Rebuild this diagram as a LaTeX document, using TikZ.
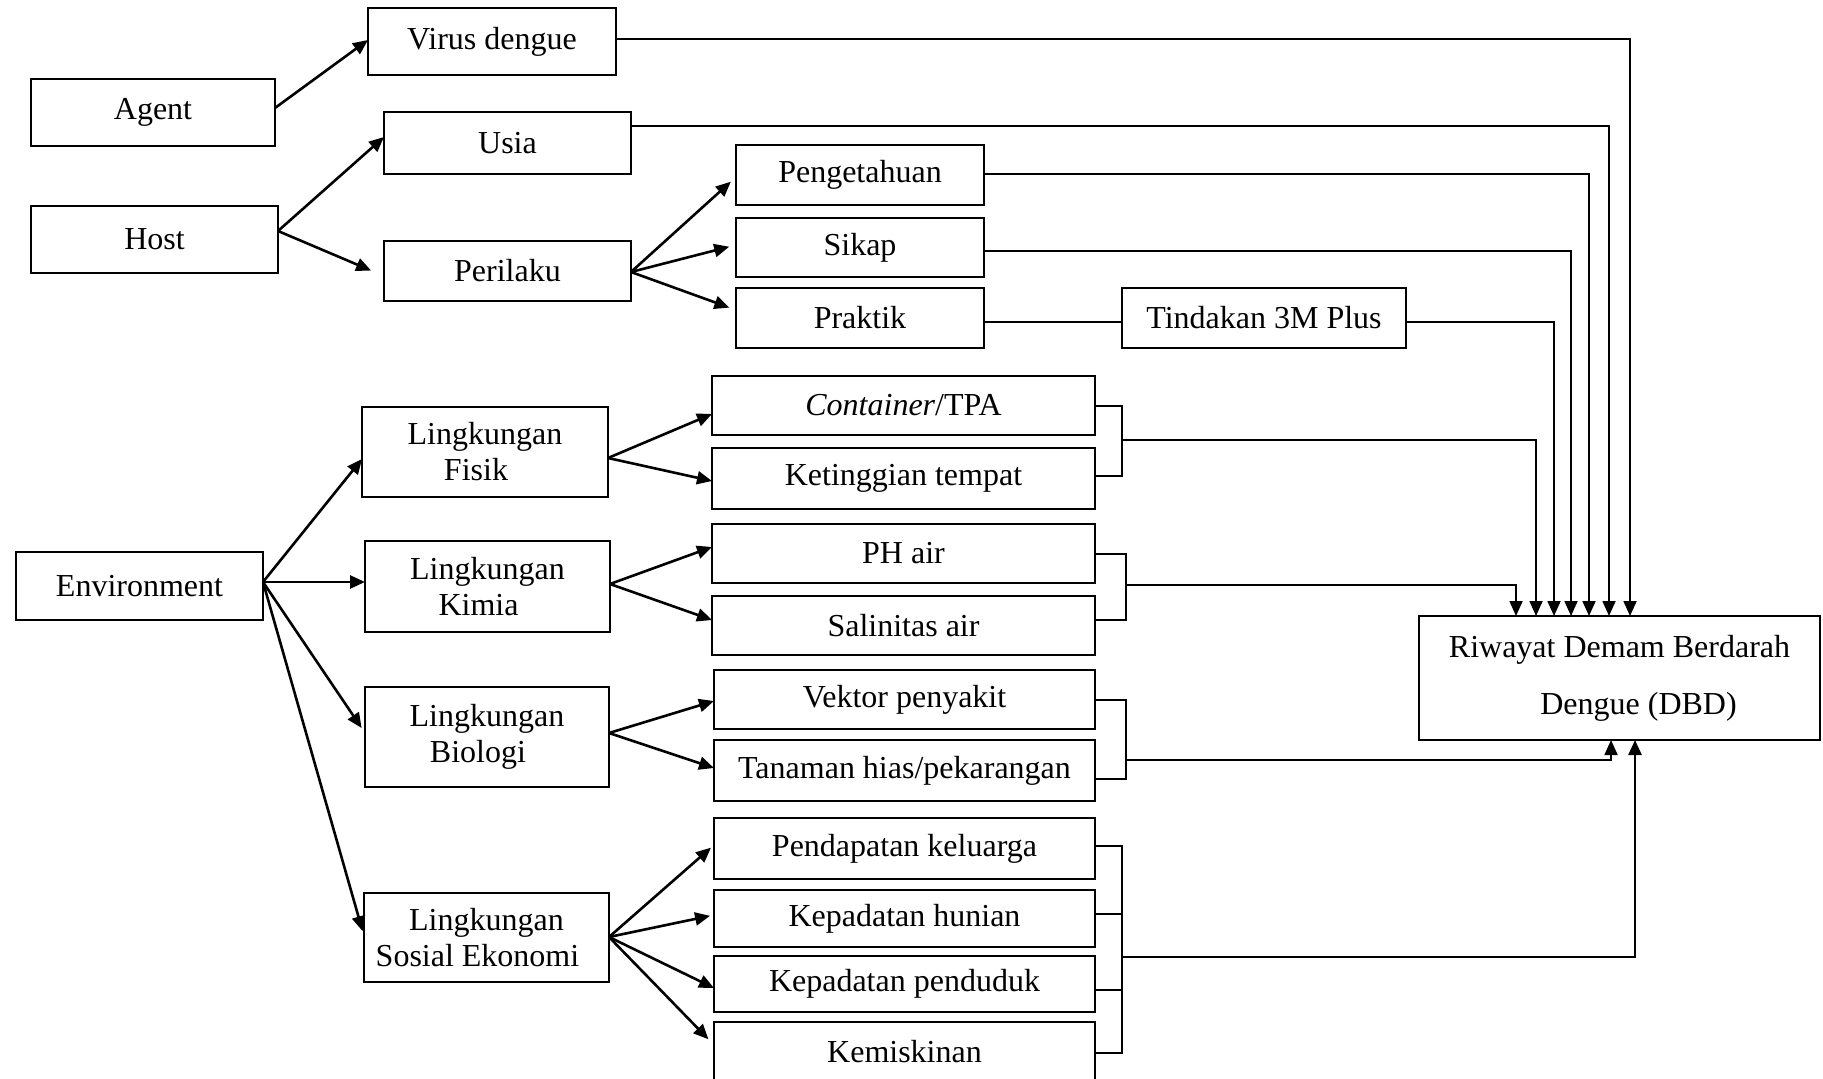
\documentclass[tikz,border=0pt]{standalone}
\usepackage{fontspec}
\setmainfont{Liberation Serif}
\usetikzlibrary{arrows.meta,calc}
\begin{document}
\begin{tikzpicture}[x=0.5pt,y=-0.5pt,
 box/.style={draw, line width=0.75pt, inner sep=0pt, outer sep=0pt, align=center, font=\fontsize{16}{18}\selectfont},
 arr/.style={line width=1.3pt, -{Triangle[length=7.5pt,width=6.5pt]}},
 feed/.style={line width=0.9pt, -{Triangle[length=7.5pt,width=6.5pt]}},
 brk/.style={line width=0.7pt}]
\useasboundingbox (0,0) rectangle (1823,1079);
% nodes
\node[box, minimum width=124pt, minimum height=33.5pt] (virus) at (492,41.5) {Virus dengue};
\node[box, minimum width=122pt, minimum height=33.5pt] (agent) at (153,112.5) {Agent};
\node[box, minimum width=123.5pt, minimum height=31pt] (usia) at (507.5,143) {Usia};
\node[box, minimum width=123.5pt, minimum height=33.5pt] (host) at (154.5,239.5) {Host};
\node[box, minimum width=123.5pt, minimum height=30pt] (perilaku) at (507.5,271) {Perilaku};
\node[box, minimum width=124pt, minimum height=30pt] (penget) at (860,175) {Pengetahuan};
\node[box, minimum width=124pt, minimum height=29.5pt] (sikap) at (860,247.5) {Sikap};
\node[box, minimum width=124pt, minimum height=30pt] (praktik) at (860,318) {Praktik};
\node[box, minimum width=142pt, minimum height=30pt] (tindakan) at (1264,318) {Tindakan 3M Plus};
\node[box, minimum width=123.5pt, minimum height=34pt] (env) at (139.5,586) {Environment};
\node[box, minimum width=123pt, minimum height=45pt] (fisik) at (485,452) {Lingkungan\\Fisik\hspace*{9pt}};
\node[box, minimum width=191.5pt, minimum height=29.5pt] (container) at (903.5,405.5) {\textit{Container}/TPA};
\node[box, minimum width=191.5pt, minimum height=30.5pt] (ketinggian) at (903.5,478.5) {Ketinggian tempat};
\node[box, minimum width=122.5pt, minimum height=45.5pt] (kimia) at (487.5,586.5) {Lingkungan\\Kimia\hspace*{9pt}};
\node[box, minimum width=191.5pt, minimum height=29.5pt] (ph) at (903.5,553.5) {PH air};
\node[box, minimum width=191.5pt, minimum height=29.5pt] (salin) at (903.5,625.5) {Salinitas air};
\node[box, minimum width=122pt, minimum height=50pt] (biologi) at (487,737) {Lingkungan\\Biologi\hspace*{9pt}};
\node[box, minimum width=190.5pt, minimum height=29.5pt] (vektor) at (904.5,699.5) {Vektor penyakit};
\node[box, minimum width=190.5pt, minimum height=30.5pt] (tanaman) at (904.5,770.5) {Tanaman hias/pekarangan};
\node[box, minimum width=122.5pt, minimum height=44.5pt] (sosial) at (486.5,937.5) {Lingkungan\\Sosial Ekonomi\hspace*{9pt}};
\node[box, minimum width=190.5pt, minimum height=30.5pt] (pendapatan) at (904.5,848.5) {Pendapatan keluarga};
\node[box, minimum width=190.5pt, minimum height=28.5pt] (hunian) at (904.5,918.5) {Kepadatan hunian};
\node[box, minimum width=190.5pt, minimum height=28pt] (penduduk) at (904.5,984) {Kepadatan penduduk};
\node[box, minimum width=190.5pt, minimum height=30pt] (miskin) at (904.5,1052) {Kemiskinan};
\node[box, minimum width=200.5pt, minimum height=62pt, font=\fontsize{16}{28.5}\selectfont] (riwayat) at (1619.5,678) {Riwayat Demam Berdarah\\\hspace*{19pt}Dengue (DBD)};
% tree arrows
\draw[arr] (agent.east |- 0,108) -- (virus.west |- 0,40);
\draw[arr] (host.east |- 0,231) -- (usia.west |- 0,137);
\draw[arr, shorten >=7pt] (host.east |- 0,231) -- (perilaku.west |- 0,276);
\draw[arr, shorten >=3.5pt] (perilaku.east |- 0,272) -- (penget.west |- 0,177);
\draw[arr, shorten >=3.5pt] (perilaku.east |- 0,272) -- (sikap.west |- 0,245);
\draw[arr, shorten >=3.5pt] (perilaku.east |- 0,272) -- (praktik.west |- 0,310);
\coordinate (envout) at (env.east |- 0,582);
\draw[arr] (envout) -- (fisik.west |- 0,459);
\draw[arr] (envout) -- (kimia.west |- 0,582);
\draw[arr, shorten >=3pt] (envout) -- (biologi.west |- 0,733);
\draw[arr, shorten >=2.5pt] (envout) -- (sosial.west |- 0,936);
\draw[arr] (fisik.east |- 0,458) -- (container.west |- 0,414);
\draw[arr] (fisik.east |- 0,458) -- (ketinggian.west |- 0,481);
\draw[arr] (kimia.east |- 0,584) -- (ph.west |- 0,547);
\draw[arr] (kimia.east |- 0,584) -- (salin.west |- 0,620);
\draw[arr] (biologi.east |- 0,733) -- (vektor.west |- 0,701);
\draw[arr] (biologi.east |- 0,733) -- (tanaman.west |- 0,768);
\draw[arr, shorten >=2pt] (sosial.east |- 0,937) -- (pendapatan.west |- 0,845);
\draw[arr, shorten >=2pt] (sosial.east |- 0,937) -- (hunian.west |- 0,915);
\draw[arr] (sosial.east |- 0,937) -- (penduduk.west |- 0,988);
\draw[arr, shorten >=4pt] (sosial.east |- 0,937) -- (miskin.west |- 0,1045);
% feedback lines into outcome
\draw[feed] (virus.east |- 0,39) -| (riwayat.north -| 1630,0);
\draw[feed] (usia.east |- 0,126) -| (riwayat.north -| 1609,0);
\draw[feed] (penget.east |- 0,174) -| (riwayat.north -| 1589,0);
\draw[feed] (sikap.east |- 0,251) -| (riwayat.north -| 1571,0);
\draw[brk] (praktik.east |- 0,322) -- (tindakan.west |- 0,322);
\draw[feed] (tindakan.east |- 0,322) -| (riwayat.north -| 1554,0);
% brackets
\draw[brk] (container.east |- 0,406) -| (1122,476) -- (ketinggian.east |- 0,476);
\coordinate (bf) at (1122,440);
\draw[feed] (bf) -| (riwayat.north -| 1536,0);
\draw[brk] (ph.east |- 0,554) -| (1126,620) -- (salin.east |- 0,620);
\coordinate (bk) at (1126,585);
\draw[feed] (bk) -| (riwayat.north -| 1516,0);
\draw[brk] (vektor.east |- 0,700) -| (1126,779) -- (tanaman.east |- 0,779);
\coordinate (bb) at (1126,760);
\draw[feed] (bb) -| (riwayat.south -| 1611,0);
\draw[brk] (pendapatan.east |- 0,846) -| (1122,1053) -- (miskin.east |- 0,1053);
\draw[brk] (hunian.east |- 0,914) -- (1122,914);
\draw[brk] (penduduk.east |- 0,990) -- (1122,990);
\coordinate (bs) at (1122,957);
\draw[feed, line width=1.3pt] (bs) -| (riwayat.south -| 1635,0);
\end{tikzpicture}
\end{document}
